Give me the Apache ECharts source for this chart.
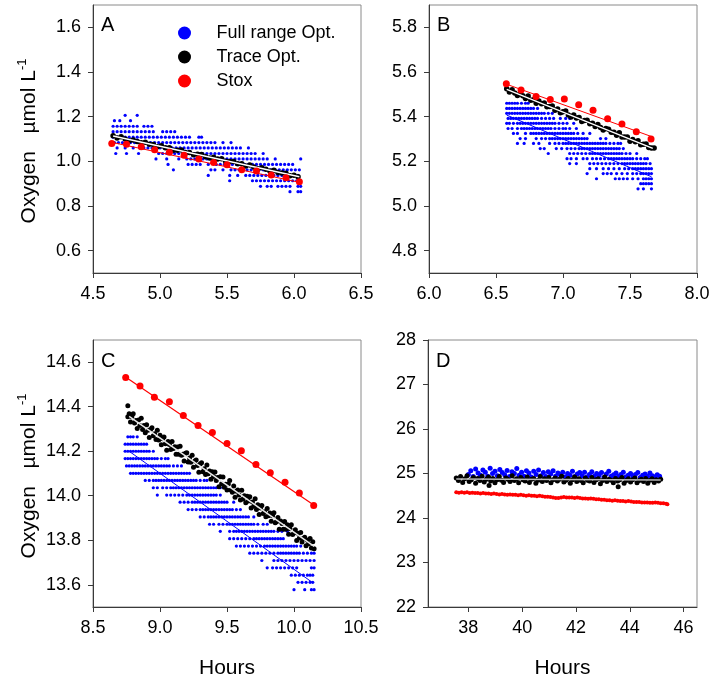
<!DOCTYPE html>
<html><head><meta charset="utf-8">
<script src="https://cdn.jsdelivr.net/npm/echarts/dist/echarts.min.js"></script>
<style>html,body{margin:0;padding:0;background:#fff}#c{width:714px;height:681px}</style>
</head><body><div id="c"></div>
<script>
// ---------- Panel A ----------
const aFullRows = [
 [1.206, [4.74, 4.83]],
 [1.182, [4.66, 4.70, 4.78]],
 [1.157, [4.65, 4.68, 4.71, 4.74, 4.77, 4.80, 4.83, 4.88, 4.91, 4.94]],
 [1.133, [4.65, 4.68, 4.71, 4.74, 4.77, 4.80, 4.83, 4.86, 4.89, 4.92, 4.95, 5.02, 5.05, 5.08, 5.11]],
 [1.108, [4.65, 4.68, 4.71, 4.74, 4.77, 4.80, 4.83, 4.86, 4.89, 4.92, 4.95, 4.98, 5.01, 5.04, 5.07, 5.10, 5.13, 5.16, 5.19, 5.22, 5.29, 5.31]],
 [1.084, [4.66, 4.69, 4.72, 4.75, 4.78, 4.81, 4.84, 4.87, 4.90, 4.93, 4.96, 4.99, 5.02, 5.05, 5.08, 5.11, 5.14, 5.17, 5.20, 5.23, 5.26, 5.29, 5.32, 5.35, 5.38, 5.41, 5.47, 5.53]],
 [1.060, [4.68, 4.74, 4.80, 4.85, 4.88, 4.91, 4.94, 4.97, 5.00, 5.03, 5.06, 5.09, 5.12, 5.15, 5.18, 5.21, 5.24, 5.27, 5.30, 5.33, 5.36, 5.39, 5.42, 5.45, 5.48, 5.51, 5.54, 5.57, 5.60, 5.66]],
 [1.035, [4.67, 4.75, 4.84, 4.99, 5.02, 5.05, 5.08, 5.11, 5.14, 5.17, 5.20, 5.23, 5.26, 5.29, 5.32, 5.35, 5.38, 5.41, 5.44, 5.47, 5.50, 5.53, 5.56, 5.59, 5.62, 5.65, 5.68, 5.71, 5.77]],
 [1.011, [4.97, 5.05, 5.14, 5.20, 5.23, 5.26, 5.29, 5.32, 5.35, 5.38, 5.41, 5.44, 5.47, 5.50, 5.53, 5.56, 5.59, 5.62, 5.65, 5.68, 5.71, 5.74, 5.77, 5.80, 5.86, 6.05]],
 [0.986, [5.06, 5.21, 5.24, 5.27, 5.30, 5.36, 5.42, 5.45, 5.48, 5.51, 5.54, 5.57, 5.60, 5.63, 5.66, 5.69, 5.72, 5.75, 5.78, 5.81, 5.84, 5.87, 5.90, 5.93, 5.96, 5.99]],
 [0.962, [5.10, 5.38, 5.41, 5.47, 5.53, 5.56, 5.59, 5.62, 5.65, 5.68, 5.71, 5.74, 5.77, 5.80, 5.83, 5.86, 5.89, 5.92, 5.95, 5.98, 6.01, 6.04]],
 [0.937, [5.36, 5.52, 5.58, 5.64, 5.67, 5.70, 5.73, 5.76, 5.79, 5.82, 5.85, 5.88, 5.91, 5.94, 5.97, 6.00, 6.03]],
 [0.913, [5.52, 5.69, 5.72, 5.75, 5.78, 5.81, 5.84, 5.87, 5.90, 5.93, 5.96, 5.99, 6.02, 6.04]],
 [0.888, [5.75, 5.80, 5.83, 5.88, 5.91, 5.94, 5.97, 6.03, 6.05]],
 [0.864, [5.97, 6.03, 6.05]]
];
const aTrace = [[4.65,1.115],[4.68,1.105],[4.71,1.110],[4.74,1.100],[4.77,1.092],[4.80,1.096],[4.83,1.089],[4.86,1.083],[4.89,1.086],[4.92,1.076],[4.95,1.075],[4.98,1.065],[5.01,1.070],[5.04,1.061],[5.07,1.061],[5.10,1.050],[5.13,1.050],[5.16,1.051],[5.19,1.039],[5.22,1.040],[5.25,1.029],[5.28,1.032],[5.31,1.031],[5.34,1.021],[5.37,1.015],[5.40,1.018],[5.43,1.010],[5.46,1.012],[5.49,1.000],[5.52,0.999],[5.55,0.999],[5.58,0.989],[5.61,0.989],[5.64,0.979],[5.67,0.984],[5.70,0.975],[5.73,0.967],[5.76,0.971],[5.79,0.965],[5.82,0.957],[5.85,0.960],[5.88,0.950],[5.91,0.948],[5.94,0.947],[5.97,0.935],[6.00,0.938],[6.03,0.931]];
const aTraceFit = [[4.65,1.113],[6.04,0.931]];
const aStoxHours = [4.64, 4.75, 4.86, 4.96, 5.07, 5.18, 5.29, 5.40, 5.50, 5.61, 5.72, 5.83, 5.94, 6.04];
const aStox = [1.080, 1.076, 1.065, 1.052, 1.041, 1.027, 1.010, 0.995, 0.985, 0.962, 0.957, 0.939, 0.926, 0.909];
const aStoxFit = [[4.64,1.085],[6.04,0.906]];

// ---------- Panel B ----------
const bFullRows = [
 [5.460, [6.58, 6.60, 6.62, 6.64, 6.66, 6.69, 6.72, 6.74]],
 [5.437, [6.58, 6.60, 6.62, 6.64, 6.66, 6.68, 6.70, 6.72, 6.74, 6.76, 6.78, 6.81]],
 [5.415, [6.58, 6.60, 6.62, 6.64, 6.66, 6.68, 6.70, 6.72, 6.74, 6.76, 6.78, 6.80, 6.82, 6.84, 6.86, 6.89, 6.92, 6.99]],
 [5.392, [6.59, 6.61, 6.63, 6.65, 6.67, 6.69, 6.71, 6.73, 6.75, 6.77, 6.79, 6.81, 6.84, 6.87, 6.90, 6.93, 6.98, 7.02, 7.05]],
 [5.370, [6.58, 6.60, 6.63, 6.66, 6.68, 6.70, 6.72, 6.74, 6.76, 6.78, 6.80, 6.82, 6.84, 6.86, 6.88, 6.90, 6.92, 6.94, 6.97, 7.00, 7.03, 7.08]],
 [5.347, [6.59, 6.62, 6.66, 6.69, 6.71, 6.73, 6.75, 6.77, 6.79, 6.81, 6.83, 6.85, 6.87, 6.89, 6.91, 6.94, 6.97, 7.00, 7.02, 7.05, 7.10]],
 [5.325, [6.63, 6.66, 6.72, 6.76, 6.78, 6.80, 6.82, 6.84, 6.86, 6.88, 6.90, 6.92, 6.94, 6.96, 6.98, 7.00, 7.02, 7.04, 7.06, 7.08, 7.11, 7.15, 7.20]],
 [5.302, [6.68, 6.72, 6.80, 6.84, 6.87, 6.90, 6.92, 6.94, 6.96, 6.98, 7.00, 7.02, 7.04, 7.06, 7.08, 7.10, 7.12, 7.14, 7.16, 7.18, 7.28, 7.32]],
 [5.280, [6.66, 6.71, 6.78, 6.82, 6.90, 6.94, 6.97, 7.00, 7.02, 7.04, 7.06, 7.08, 7.10, 7.12, 7.14, 7.16, 7.18, 7.20, 7.22, 7.24, 7.26, 7.28, 7.30, 7.32, 7.35, 7.38, 7.41, 7.43]],
 [5.257, [6.83, 6.86, 6.95, 6.99, 7.03, 7.06, 7.09, 7.12, 7.14, 7.16, 7.18, 7.20, 7.22, 7.24, 7.26, 7.28, 7.30, 7.32, 7.34, 7.36, 7.38, 7.40, 7.42, 7.45]],
 [5.235, [6.89, 7.05, 7.08, 7.11, 7.14, 7.17, 7.20, 7.22, 7.24, 7.26, 7.28, 7.30, 7.32, 7.34, 7.36, 7.38, 7.40, 7.42, 7.44, 7.47, 7.50, 7.55]],
 [5.212, [7.03, 7.06, 7.10, 7.15, 7.18, 7.22, 7.25, 7.28, 7.31, 7.34, 7.36, 7.38, 7.40, 7.42, 7.44, 7.46, 7.48, 7.50, 7.52, 7.55, 7.58, 7.61, 7.63]],
 [5.190, [7.05, 7.10, 7.20, 7.23, 7.26, 7.29, 7.32, 7.35, 7.38, 7.41, 7.44, 7.46, 7.48, 7.50, 7.52, 7.54, 7.56, 7.58, 7.60, 7.62, 7.65]],
 [5.167, [7.20, 7.25, 7.30, 7.34, 7.38, 7.42, 7.46, 7.49, 7.52, 7.54, 7.56, 7.58, 7.60, 7.62, 7.64, 7.66]],
 [5.145, [7.18, 7.30, 7.33, 7.36, 7.40, 7.44, 7.48, 7.52, 7.55, 7.58, 7.60, 7.62, 7.64, 7.66]],
 [5.122, [7.25, 7.39, 7.42, 7.45, 7.48, 7.52, 7.56, 7.60, 7.62, 7.64, 7.66]],
 [5.100, [7.58, 7.60, 7.62, 7.64, 7.66]],
 [5.077, [7.56, 7.60, 7.66]]
];
const bFullFit = [[6.58,5.407],[7.66,5.131]];
const bTrace = [[6.58,5.525],[6.60,5.511],[6.62,5.520],[6.64,5.506],[6.66,5.495],[6.68,5.503],[6.70,5.494],[6.72,5.481],[6.74,5.492],[6.76,5.474],[6.78,5.476],[6.80,5.460],[6.82,5.470],[6.84,5.458],[6.86,5.461],[6.88,5.444],[6.90,5.445],[6.92,5.448],[6.94,5.429],[6.96,5.434],[6.98,5.417],[7.00,5.422],[7.02,5.425],[7.04,5.408],[7.06,5.399],[7.08,5.407],[7.10,5.394],[7.12,5.396],[7.14,5.378],[7.16,5.383],[7.18,5.384],[7.20,5.368],[7.22,5.370],[7.24,5.356],[7.26,5.365],[7.28,5.352],[7.30,5.340],[7.32,5.347],[7.34,5.344],[7.36,5.330],[7.38,5.330],[7.40,5.317],[7.42,5.328],[7.44,5.309],[7.46,5.309],[7.48,5.309],[7.50,5.290],[7.52,5.298],[7.54,5.288],[7.56,5.292],[7.58,5.274],[7.60,5.276],[7.62,5.278],[7.64,5.262],[7.66,5.260],[7.68,5.260]];
const bTraceFit = [[6.58,5.522],[7.67,5.258]];
const bStoxHours = [6.577, 6.687, 6.799, 6.905, 7.010, 7.117, 7.224, 7.333, 7.440, 7.547, 7.657];
const bStox = [5.547, 5.519, 5.490, 5.477, 5.479, 5.453, 5.429, 5.391, 5.367, 5.332, 5.300];
const bStoxFit = [[6.58,5.545],[7.66,5.311]];

// ---------- Panel C ----------
const cFullRows = [
 [14.265, [8.76, 8.78, 8.80, 8.83]],
 [14.232, [8.74, 8.76, 8.78, 8.80, 8.82, 8.84, 8.86, 8.88, 8.90]],
 [14.200, [8.74, 8.76, 8.78, 8.80, 8.82, 8.84, 8.86, 8.88, 8.90, 8.92, 8.95]],
 [14.167, [8.74, 8.76, 8.78, 8.80, 8.82, 8.84, 8.86, 8.88, 8.90, 8.92, 8.94, 8.96, 8.98, 9.01, 9.04, 9.06]],
 [14.134, [8.75, 8.77, 8.79, 8.81, 8.83, 8.85, 8.87, 8.89, 8.91, 8.93, 8.95, 8.97, 8.99, 9.01, 9.03, 9.05, 9.07, 9.10, 9.13, 9.16]],
 [14.101, [8.78, 8.80, 8.82, 8.84, 8.86, 8.88, 8.90, 8.92, 8.94, 8.96, 8.98, 9.00, 9.02, 9.04, 9.06, 9.08, 9.10, 9.12, 9.14, 9.16, 9.18, 9.20, 9.22]],
 [14.069, [8.89, 8.92, 8.95, 8.97, 8.99, 9.01, 9.03, 9.05, 9.07, 9.09, 9.11, 9.13, 9.15, 9.17, 9.19, 9.21, 9.23, 9.25, 9.27, 9.30, 9.33, 9.35]],
 [14.036, [8.95, 8.98, 9.02, 9.05, 9.08, 9.10, 9.12, 9.14, 9.16, 9.18, 9.20, 9.22, 9.24, 9.26, 9.28, 9.30, 9.32, 9.34, 9.36, 9.38, 9.40, 9.42, 9.45]],
 [14.003, [8.98, 9.05, 9.08, 9.11, 9.14, 9.17, 9.20, 9.22, 9.24, 9.26, 9.28, 9.30, 9.32, 9.34, 9.36, 9.38, 9.40, 9.42, 9.45]],
 [13.971, [9.15, 9.18, 9.21, 9.24, 9.26, 9.28, 9.30, 9.32, 9.34, 9.36, 9.38, 9.40, 9.42, 9.44, 9.46, 9.48, 9.50, 9.55]],
 [13.938, [9.21, 9.24, 9.27, 9.30, 9.32, 9.34, 9.36, 9.38, 9.40, 9.42, 9.44, 9.46, 9.48, 9.50, 9.52, 9.54, 9.57, 9.60]],
 [13.905, [9.30, 9.33, 9.36, 9.38, 9.40, 9.42, 9.44, 9.46, 9.48, 9.50, 9.52, 9.54, 9.56, 9.58, 9.60, 9.62, 9.64, 9.66, 9.70]],
 [13.872, [9.37, 9.40, 9.44, 9.47, 9.50, 9.52, 9.54, 9.56, 9.58, 9.60, 9.62, 9.64, 9.66, 9.68, 9.70, 9.73, 9.77, 9.80]],
 [13.840, [9.45, 9.52, 9.55, 9.57, 9.59, 9.61, 9.63, 9.65, 9.67, 9.69, 9.71, 9.73, 9.75, 9.77, 9.79, 9.81, 9.83, 9.85, 9.88, 9.91, 9.95]],
 [13.807, [9.52, 9.55, 9.58, 9.61, 9.64, 9.67, 9.70, 9.72, 9.74, 9.76, 9.78, 9.80, 9.82, 9.84, 9.86, 9.88, 9.90, 9.92]],
 [13.774, [9.57, 9.60, 9.63, 9.66, 9.69, 9.72, 9.75, 9.78, 9.80, 9.82, 9.84, 9.86, 9.88, 9.90, 9.92, 9.94, 9.96, 9.98, 10.00, 10.02, 10.05]],
 [13.742, [9.67, 9.70, 9.73, 9.76, 9.79, 9.82, 9.85, 9.88, 9.90, 9.92, 9.94, 9.96, 9.98, 10.00, 10.02, 10.04, 10.07, 10.10, 10.13, 10.15]],
 [13.709, [9.76, 9.85, 9.88, 9.91, 9.94, 9.97, 10.00, 10.03, 10.06, 10.09, 10.12, 10.15]],
 [13.676, [9.80, 9.84, 9.87, 9.90, 9.93, 9.96, 9.99, 10.02, 10.13, 10.15]],
 [13.643, [9.98, 10.01, 10.04, 10.07, 10.10, 10.12, 10.14]],
 [13.611, [10.03, 10.06, 10.09, 10.12, 10.14]],
 [13.578, [10.00, 10.08, 10.13, 10.15]]
];
const cFullFit = [[8.77,14.200],[10.14,13.609]];
const cTrace = [[8.76,14.404],[8.76,14.355],[8.77,14.368],[8.78,14.332],[8.79,14.355],[8.80,14.368],[8.81,14.327],[8.82,14.338],[8.83,14.302],[8.84,14.341],[8.85,14.316],[8.86,14.348],[8.87,14.298],[8.88,14.316],[8.89,14.283],[8.90,14.319],[8.91,14.294],[8.92,14.262],[8.93,14.298],[8.94,14.306],[8.95,14.270],[8.96,14.279],[8.97,14.253],[8.98,14.294],[8.99,14.251],[9.00,14.272],[9.01,14.229],[9.02,14.256],[9.03,14.264],[9.04,14.234],[9.05,14.204],[9.06,14.244],[9.07,14.230],[9.08,14.208],[9.09,14.244],[9.10,14.212],[9.11,14.220],[9.12,14.186],[9.13,14.219],[9.14,14.186],[9.15,14.223],[9.16,14.182],[9.17,14.187],[9.18,14.156],[9.19,14.191],[9.20,14.193],[9.21,14.152],[9.22,14.170],[9.23,14.151],[9.24,14.182],[9.25,14.128],[9.26,14.156],[9.27,14.161],[9.28,14.136],[9.29,14.106],[9.30,14.143],[9.31,14.148],[9.32,14.108],[9.33,14.121],[9.34,14.095],[9.35,14.138],[9.36,14.099],[9.37,14.111],[9.38,14.074],[9.39,14.108],[9.40,14.087],[9.41,14.107],[9.42,14.068],[9.43,14.082],[9.44,14.040],[9.45,14.085],[9.46,14.054],[9.47,14.084],[9.48,14.038],[9.49,14.052],[9.50,14.026],[9.51,14.053],[9.52,14.068],[9.53,14.026],[9.54,14.016],[9.55,14.044],[9.56,13.993],[9.57,14.020],[9.58,14.026],[9.59,14.003],[9.60,13.981],[9.61,14.025],[9.62,13.985],[9.63,14.000],[9.64,13.968],[9.65,13.998],[9.66,13.976],[9.67,13.996],[9.68,13.945],[9.69,13.972],[9.70,13.953],[9.71,13.987],[9.72,13.938],[9.73,13.960],[9.74,13.916],[9.75,13.945],[9.76,13.956],[9.77,13.920],[9.78,13.928],[9.79,13.906],[9.80,13.943],[9.81,13.910],[9.82,13.923],[9.83,13.885],[9.84,13.910],[9.85,13.924],[9.86,13.879],[9.87,13.883],[9.88,13.902],[9.89,13.850],[9.90,13.886],[9.91,13.875],[9.92,13.849],[9.93,13.884],[9.94,13.850],[9.95,13.870],[9.96,13.827],[9.97,13.852],[9.98,13.870],[9.99,13.826],[10.00,13.833],[10.01,13.847],[10.02,13.799],[10.03,13.832],[10.04,13.810],[10.05,13.835],[10.06,13.792],[10.07,13.808],[10.08,13.814],[10.09,13.775],[10.10,13.800],[10.11,13.784],[10.12,13.808],[10.13,13.765],[10.14,13.793],[10.15,13.762]];
const cTraceFit = [[8.77,14.357],[10.15,13.772]];
const cStoxHours = [8.744, 8.851, 8.958, 9.070, 9.174, 9.284, 9.391, 9.500, 9.607, 9.716, 9.823, 9.933, 10.040, 10.147];
const cStox = [14.532, 14.493, 14.443, 14.423, 14.361, 14.316, 14.284, 14.235, 14.202, 14.140, 14.103, 14.061, 14.012, 13.956];
const cStoxFit = [[8.74,14.535],[10.15,13.957]];

// ---------- Panel D ----------
const dTraceHours = [37.55,37.63,37.71,37.79,37.87,37.95,38.03,38.11,38.19,38.27,38.35,38.43,38.51,38.59,38.67,38.75,38.83,38.91,38.99,39.07,39.15,39.23,39.31,39.39,39.47,39.55,39.63,39.71,39.79,39.87,39.95,40.03,40.11,40.19,40.27,40.35,40.43,40.51,40.59,40.67,40.75,40.83,40.91,40.99,41.07,41.15,41.23,41.31,41.39,41.47,41.55,41.63,41.71,41.79,41.87,41.95,42.03,42.11,42.19,42.27,42.35,42.43,42.51,42.59,42.67,42.75,42.83,42.91,42.99,43.07,43.15,43.23,43.31,43.39,43.47,43.55,43.63,43.71,43.79,43.87,43.95,44.03,44.11,44.19,44.27,44.35,44.43,44.51,44.59,44.67,44.75,44.83,44.91,44.99,45.07,45.15,38.77,43.57];
const dTrace = [24.90,24.84,24.93,24.80,24.88,24.95,24.82,24.86,24.91,24.78,24.89,24.84,24.94,24.81,24.87,24.92,24.83,24.89,24.79,24.86,24.93,24.85,24.80,24.90,24.87,24.82,24.95,24.84,24.88,24.79,24.91,24.86,24.83,24.92,24.80,24.87,24.89,24.78,24.85,24.93,24.82,24.88,24.84,24.91,24.79,24.86,24.90,24.83,24.87,24.94,24.81,24.85,24.89,24.78,24.86,24.92,24.82,24.88,24.84,24.79,24.90,24.85,24.83,24.91,24.80,24.86,24.88,24.77,24.84,24.92,24.82,24.87,24.85,24.79,24.89,24.83,24.86,24.91,24.78,24.84,24.88,24.81,24.86,24.90,24.79,24.84,24.87,24.82,24.89,24.78,24.85,24.88,24.80,24.86,24.83,24.87,24.73,24.70];
const dTraceFit = [[37.55,24.878],[45.15,24.852]];
const dFullHours = [38.00,38.09,38.18,38.27,38.36,38.45,38.54,38.63,38.72,38.81,38.90,38.99,39.08,39.17,39.26,39.35,39.44,39.53,39.62,39.71,39.80,39.89,39.98,40.07,40.16,40.25,40.34,40.43,40.52,40.61,40.70,40.79,40.88,40.97,41.06,41.15,41.24,41.33,41.42,41.51,41.60,41.69,41.78,41.87,41.96,42.05,42.14,42.23,42.32,42.41,42.50,42.59,42.68,42.77,42.86,42.95,43.04,43.13,43.22,43.31,43.40,43.49,43.58,43.67,43.76,43.85,43.94,44.03,44.12,44.21,44.30,44.39,44.48,44.57,44.66,44.75,44.84,44.93,45.02,45.11];
const dFull = [24.98,25.06,24.93,25.10,25.01,24.96,25.08,25.03,24.94,25.12,25.00,25.05,24.95,25.09,25.02,24.97,25.07,24.93,25.04,25.00,25.11,24.96,25.03,24.94,25.06,25.01,24.92,25.05,24.98,25.08,24.95,25.02,24.93,25.04,24.99,25.06,24.94,25.01,24.97,25.03,24.92,25.00,24.96,25.05,24.93,24.99,25.02,24.95,25.03,24.92,24.98,25.04,24.94,25.00,24.96,25.02,24.91,24.99,25.05,24.94,24.97,25.01,24.93,24.98,25.03,24.92,24.96,25.00,24.94,24.98,25.02,24.91,24.96,24.99,24.93,25.01,24.95,24.92,24.97,24.94];
const dStoxHours = [37.55,37.65,37.75,37.85,37.95,38.05,38.15,38.25,38.35,38.45,38.55,38.65,38.75,38.85,38.95,39.05,39.15,39.25,39.35,39.45,39.55,39.65,39.75,39.85,39.95,40.05,40.15,40.25,40.35,40.45,40.55,40.65,40.75,40.85,40.95,41.05,41.15,41.25,41.35,41.45,41.55,41.65,41.75,41.85,41.95,42.05,42.15,42.25,42.35,42.45,42.55,42.65,42.75,42.85,42.95,43.05,43.15,43.25,43.35,43.45,43.55,43.65,43.75,43.85,43.95,44.05,44.15,44.25,44.35,44.45,44.55,44.65,44.75,44.85,44.95,45.05,45.15,45.25,45.35,45.40];
const dStox = [24.58,24.57,24.58,24.57,24.58,24.56,24.57,24.56,24.56,24.55,24.56,24.55,24.55,24.54,24.55,24.54,24.53,24.54,24.53,24.52,24.53,24.52,24.52,24.51,24.52,24.51,24.50,24.51,24.50,24.50,24.49,24.50,24.49,24.48,24.48,24.47,24.46,24.45,24.45,24.46,24.47,24.46,24.46,24.46,24.45,24.46,24.45,24.44,24.44,24.43,24.44,24.43,24.42,24.42,24.41,24.41,24.40,24.40,24.39,24.40,24.39,24.38,24.38,24.37,24.38,24.37,24.36,24.36,24.36,24.35,24.35,24.35,24.34,24.34,24.35,24.34,24.33,24.33,24.32,24.31];

// ---------- axes ticks ----------
const aYTicks = [0.6, 0.8, 1.0, 1.2, 1.4, 1.6];
const bYTicks = [4.8, 5.0, 5.2, 5.4, 5.6, 5.8];
const cYTicks = [13.6, 13.8, 14.0, 14.2, 14.4, 14.6];
const dYTicks = [22, 23, 24, 25, 26, 27, 28];
const aXTicks = [4.5, 5.0, 5.5, 6.0, 6.5];
const bXTicks = [6.0, 6.5, 7.0, 7.5, 8.0];
const cXTicks = [8.5, 9.0, 9.5, 10.0, 10.5];
const dXTicks = [38, 40, 42, 44, 46];

const FONT = '"Liberation Sans", Arial, sans-serif';
const zip = (xs, ys) => xs.map((x, i) => [x, ys[i]]);
const rowsToPts = rows => rows.flatMap(([y, xs]) => xs.map(x => [x, y]));
const f1 = v => Number(v).toFixed(1);
const f0 = v => String(Math.round(v));

function axis(gi, min, max, ticks, fmt, extra) {
  return Object.assign({
    type: 'value', gridIndex: gi, min: min, max: max,
    axisLine: {show: true, onZero: false, lineStyle: {color: '#3a3a3a', width: 1}},
    axisTick: {show: true, inside: false, length: 5, customValues: ticks, lineStyle: {color: '#3a3a3a'}},
    axisLabel: {customValues: ticks, formatter: fmt, fontSize: 18, color: '#000', fontFamily: FONT, margin: 12},
    splitLine: {show: false}
  }, extra || {});
}
const hoursName = {name: 'Hours', nameLocation: 'middle', nameGap: 51,
  nameTextStyle: {fontSize: 21, color: '#000', fontFamily: FONT}};

const grids = [
  {left: 93, top: 5, width: 268, height: 268},
  {left: 429, top: 5, width: 268, height: 268},
  {left: 93, top: 340, width: 268, height: 267},
  {left: 428, top: 340, width: 269, height: 267}
].map(g => Object.assign(g, {show: true, borderColor: '#8a8a8a', borderWidth: 1, backgroundColor: 'transparent', containLabel: false}));

const xAxes = [
  axis(0, 4.5, 6.5, aXTicks, f1),
  axis(1, 6.0, 8.0, bXTicks, f1),
  axis(2, 8.5, 10.5, cXTicks, f1, hoursName),
  axis(3, 36.5, 46.5, dXTicks, f0, hoursName)
];
const yAxes = [
  axis(0, 0.5, 1.7, aYTicks, f1),
  axis(1, 4.7, 5.9, bYTicks, f1),
  axis(2, 13.5, 14.7, cYTicks, f1),
  axis(3, 22, 28, dYTicks, f0)
];

const BLUE = '#0000ff', RED = '#ff0000', BLACK = '#000000';
function sc(i, name, data, color, size, z) {
  return {type: 'scatter', name: name, xAxisIndex: i, yAxisIndex: i, data: data,
    symbol: 'circle', symbolSize: size,
    itemStyle: {color: color, opacity: 1, borderWidth: 0, borderColor: color, shadowBlur: 0},
    emphasis: {disabled: true}, z: z, silent: true};
}
function ln(i, data, color, width, z) {
  return {type: 'line', name: 'fit' + i + color, xAxisIndex: i, yAxisIndex: i, data: data,
    symbol: 'none', lineStyle: {color: color, width: width}, z: z, silent: true};
}

const series = [
  // A
  sc(0, 'Full range Opt.', rowsToPts(aFullRows), BLUE, 3.2, 2),
  sc(0, 'Trace Opt.', aTrace, BLACK, 5.5, 3),
  ln(0, aTraceFit, '#ffffff', 1.5, 4),
  ln(0, aStoxFit, RED, 1, 5),
  sc(0, 'Stox', zip(aStoxHours, aStox), RED, 7, 6),
  // B
  sc(1, 'Full range Opt.', rowsToPts(bFullRows), BLUE, 3.2, 2),
  ln(1, bFullFit, BLUE, 1, 2),
  sc(1, 'Trace Opt.', bTrace, BLACK, 5.5, 3),
  ln(1, bTraceFit, '#ffffff', 1.5, 4),
  ln(1, bStoxFit, RED, 1, 5),
  sc(1, 'Stox', zip(bStoxHours, bStox), RED, 7, 6),
  // C
  sc(2, 'Full range Opt.', rowsToPts(cFullRows), BLUE, 3.2, 2),
  ln(2, cFullFit, BLUE, 1, 2),
  sc(2, 'Trace Opt.', cTrace, BLACK, 5, 3),
  ln(2, cTraceFit, '#e8e8e8', 1.5, 4),
  ln(2, cStoxFit, RED, 1.2, 5),
  sc(2, 'Stox', zip(cStoxHours, cStox), RED, 7, 6),
  // D
  sc(3, 'Full range Opt.', zip(dFullHours, dFull), BLUE, 5, 2),
  sc(3, 'Trace Opt.', zip(dTraceHours, dTrace), BLACK, 5, 3),
  ln(3, dTraceFit, '#b8b8b8', 1.5, 4),
  sc(3, 'Stox', zip(dStoxHours, dStox), RED, 4, 6)
];

function letter(t, x, y) {
  return {type: 'text', x: x, y: y, z: 100,
    style: {text: t, fontSize: 20, fontFamily: FONT, fill: '#000', align: 'left', verticalAlign: 'middle'}};
}
function yTitle(cy) {
  return {type: 'text', x: 29, y: cy, rotation: Math.PI / 2, z: 100,
    style: {text: '{m|Oxygen   µmol L}{s|-1}', align: 'center', verticalAlign: 'middle',
      rich: {
        m: {fontSize: 21, fontFamily: FONT, fill: '#000', color: '#000', lineHeight: 26, verticalAlign: 'middle'},
        s: {fontSize: 13, fontFamily: FONT, fill: '#000', color: '#000', lineHeight: 13, verticalAlign: 'top'}
      }}};
}

const chart = echarts.init(document.getElementById('c'), null, {renderer: 'canvas'});
chart.setOption({
  animation: false,
  backgroundColor: '#fff',
  grid: grids,
  xAxis: xAxes,
  yAxis: yAxes,
  legend: {
    data: ['Full range Opt.', 'Trace Opt.', 'Stox'],
    orient: 'vertical', left: 173, top: 19, itemWidth: 54, itemHeight: 13, itemGap: 6,
    icon: 'circle', selectedMode: false,
    textStyle: {fontSize: 18, lineHeight: 18, color: '#000', fontFamily: FONT}
  },
  graphic: [letter('A', 101, 25), letter('B', 437, 25), letter('C', 101, 361), letter('D', 436, 361),
    yTitle(141), yTitle(476)],
  series: series
});
</script></body></html>
